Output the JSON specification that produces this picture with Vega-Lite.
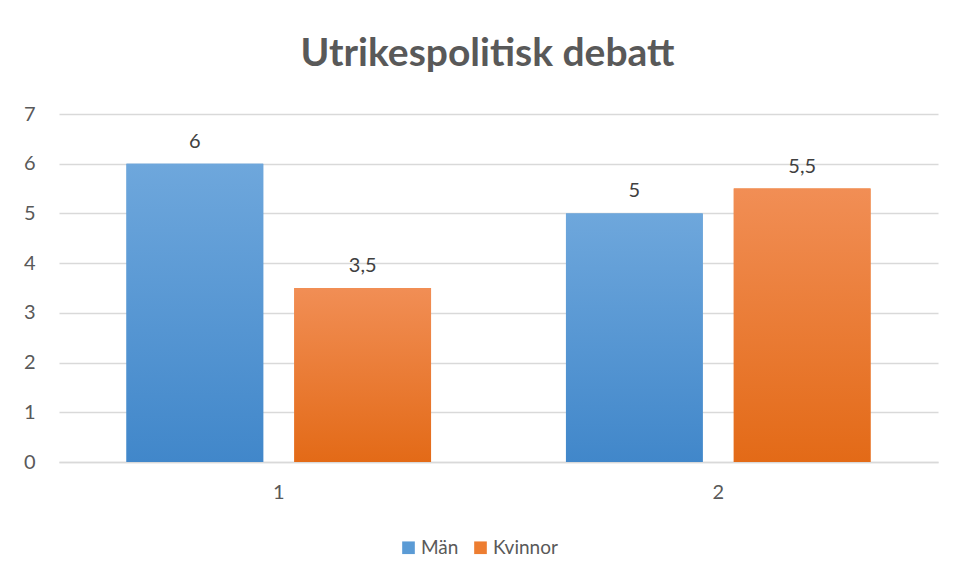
{
  "$schema": "https://vega.github.io/schema/vega-lite/v6.json",
  "width": 879,
  "height": 348,
  "autosize": {"type": "none"},
  "padding": {"left": 59, "top": 114, "right": 19, "bottom": 119},
  "background": "white",
  "title": {
    "text": "Utrikespolitisk debatt",
    "font": "Lato",
    "fontSize": 39,
    "fontWeight": "bold",
    "color": "#595959",
    "anchor": "middle",
    "offset": 30,
    "dx": -11
  },
  "data": {
    "values": [
      {"grupp": "1", "kon": "Män", "varde": 6},
      {"grupp": "1", "kon": "Kvinnor", "varde": 3.5},
      {"grupp": "2", "kon": "Män", "varde": 5},
      {"grupp": "2", "kon": "Kvinnor", "varde": 5.5}
    ]
  },
  "encoding": {
    "x": {
      "field": "grupp",
      "type": "nominal",
      "scale": {"paddingInner": 0.307, "paddingOuter": 0.1535},
      "axis": {
        "title": null,
        "labelAngle": 0,
        "labelFont": "Lato",
        "labelFontSize": 20,
        "labelColor": "#595959",
        "labelPadding": 20,
        "ticks": false,
        "domain": true,
        "domainColor": "#D9D9D9",
        "domainWidth": 1.5
      }
    },
    "xOffset": {
      "field": "kon",
      "type": "nominal",
      "sort": ["Män", "Kvinnor"],
      "scale": {"paddingInner": 0.185, "paddingOuter": 0}
    },
    "y": {
      "field": "varde",
      "type": "quantitative",
      "scale": {"domain": [0, 7], "nice": false},
      "axis": {
        "title": null,
        "values": [0, 1, 2, 3, 4, 5, 6, 7],
        "labelFont": "Lato",
        "labelFontSize": 20,
        "labelColor": "#595959",
        "labelPadding": 24,
        "ticks": false,
        "domain": false,
        "grid": true,
        "gridColor": "#D9D9D9",
        "gridWidth": 1.5
      }
    }
  },
  "layer": [
    {
      "mark": {"type": "bar"},
      "encoding": {
        "color": {
          "field": "kon",
          "type": "nominal",
          "sort": ["Män", "Kvinnor"],
          "scale": {"domain": ["Män", "Kvinnor"], "range": ["#5B9BD5", "#ED7D31"]},
          "legend": {
            "title": null,
            "orient": "none",
            "direction": "horizontal",
            "legendX": 340,
            "legendY": 424,
            "symbolType": "square",
            "symbolSize": 160,
            "symbolStrokeWidth": 0,
            "labelFont": "Lato",
            "labelFontSize": 19,
            "labelColor": "#595959",
            "labelOffset": 3,
            "columnPadding": 12
          }
        }
      }
    },
    {
      "transform": [{"filter": "datum.kon === 'Män'"}],
      "mark": {
        "type": "bar",
        "fill": {
          "gradient": "linear",
          "x1": 0, "y1": 0, "x2": 0, "y2": 1,
          "stops": [
            {"offset": 0, "color": "#6EA7DC"},
            {"offset": 1, "color": "#4187CA"}
          ]
        }
      }
    },
    {
      "transform": [{"filter": "datum.kon === 'Kvinnor'"}],
      "mark": {
        "type": "bar",
        "fill": {
          "gradient": "linear",
          "x1": 0, "y1": 0, "x2": 0, "y2": 1,
          "stops": [
            {"offset": 0, "color": "#F18E55"},
            {"offset": 1, "color": "#E36A17"}
          ]
        }
      }
    },
    {
      "mark": {
        "type": "text",
        "baseline": "alphabetic",
        "dy": -16,
        "font": "Lato",
        "fontSize": 20,
        "color": "#404040"
      },
      "encoding": {
        "text": {"field": "varde", "type": "quantitative", "format": "~g"}
      }
    }
  ],
  "config": {
    "view": {"stroke": null},
    "locale": {
      "number": {
        "decimal": ",",
        "thousands": " ",
        "grouping": [3],
        "currency": ["", " kr"]
      }
    }
  }
}
